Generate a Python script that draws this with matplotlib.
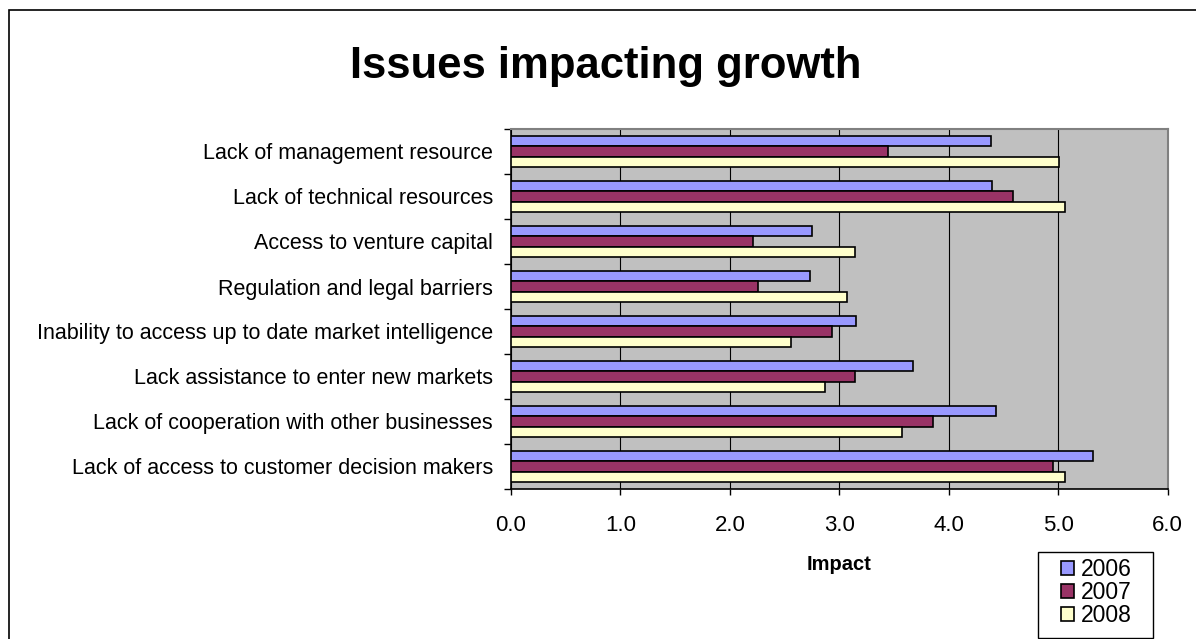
import numpy as np
import matplotlib.pyplot as plt
from matplotlib.patches import Rectangle

plt.rcParams['font.family'] = ['Liberation Sans', 'DejaVu Sans']

# categories listed top to bottom as shown
categories = ['Lack of management resource',
              'Lack of technical resources',
              'Access to venture capital',
              'Regulation and legal barriers',
              'Inability to access up to date market intelligence',
              'Lack assistance to enter new markets',
              'Lack of cooperation with other businesses',
              'Lack of access to customer decision makers']
years = ['2006', '2007', '2008']
v2006 = [4.39, 4.40, 2.75, 2.73, 3.15, 3.67, 4.43, 5.32]
v2007 = [3.45, 4.59, 2.21, 2.26, 2.93, 3.14, 3.86, 4.95]
v2008 = [5.01, 5.06, 3.14, 3.07, 2.56, 2.87, 3.57, 5.06]
colors = ['#9999FF', '#993366', '#FFFFCC']
xticks = [0.0, 1.0, 2.0, 3.0, 4.0, 5.0, 6.0]

W, H = 1196, 639
fig = plt.figure(figsize=(W / 100, H / 100), dpi=100)
# chart frame (right/bottom edges run off the page)
fig.patches.append(Rectangle((9 / W, -0.1), 1.2, 1.1 - 10 / H, transform=fig.transFigure,
                             fill=False, edgecolor='black', linewidth=1.2))

ax = fig.add_axes([511 / W, 1 - 489 / H, 656.5 / W, 360 / H])
ax.set_facecolor('#C0C0C0')

n = len(categories)
pos = np.arange(n)[::-1]  # first category on top
h = 0.225
for i, (vals, c, lab) in enumerate(zip([v2006, v2007, v2008], colors, years)):
    ax.barh(pos + h * (1 - i), vals, height=h, color=c, edgecolor='black',
            linewidth=1.2, label=lab, zorder=3)

ax.set_xlim(0, 6)
ax.set_ylim(-0.5, n - 0.5)
ax.set_xticks(xticks)
ax.set_xticklabels(['%.1f' % t for t in xticks], fontsize=16)
ax.set_yticks(pos)
ax.set_yticklabels(categories, fontsize=15.5)
ax.set_yticks(np.arange(-0.5, n, 1.0), minor=True)
ax.tick_params(axis='y', which='major', length=0, pad=13)
ax.tick_params(axis='y', which='minor', length=5, width=1, direction='out')
ax.tick_params(axis='x', length=4.3, width=1, direction='out', pad=14.5)

ax.grid(axis='x', color='black', linewidth=0.8, zorder=1)
ax.set_axisbelow(True)
for s in ['top', 'right']:
    ax.spines[s].set_color('#808080')
    ax.spines[s].set_linewidth(1.5)
for s in ['left', 'bottom']:
    ax.spines[s].set_color('black')
    ax.spines[s].set_linewidth(1.2)

fig.text(839 / W, 1 - 570 / H, 'Impact', fontsize=14.5, fontweight='bold',
         ha='center', va='baseline')
fig.text(606 / W, 1 - 78 / H, 'Issues impacting growth', fontsize=31.4,
         fontweight='bold', ha='center', va='baseline')

# legend box
fig.patches.append(Rectangle((1038 / W, 1 - 638 / H), 115 / W, 86 / H,
                             transform=fig.transFigure, facecolor='white',
                             edgecolor='black', linewidth=1.0, zorder=4))
leg = fig.legend(loc='upper left', bbox_to_anchor=(1061 / W, 1 - 558 / H),
                 fontsize=16.5, frameon=False, borderpad=0, borderaxespad=0,
                 handlelength=0.57, handleheight=0.57, handletextpad=0.3,
                 labelspacing=0.0)
leg.set_zorder(5)

fig.savefig('out.png', dpi=100)
